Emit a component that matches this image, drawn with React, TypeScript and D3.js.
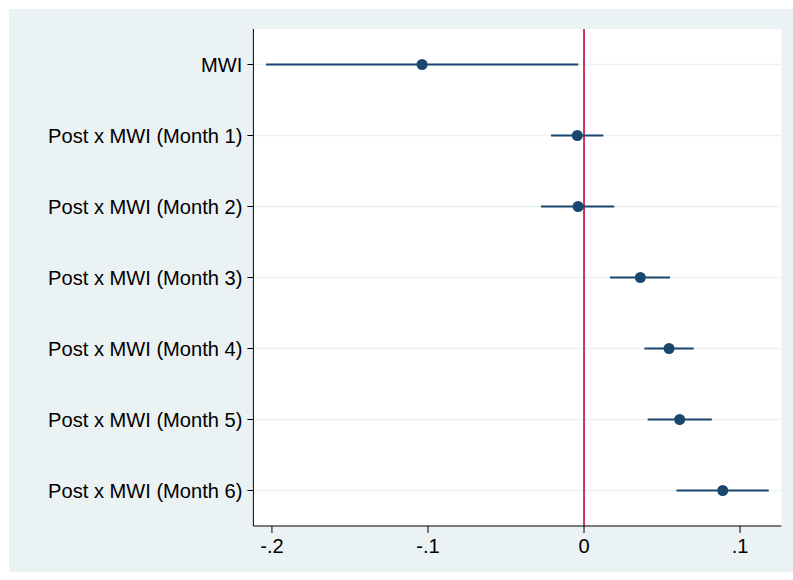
import React from "react";
import * as d3 from "d3";

const labels = [
  "MWI",
  "Post x MWI (Month 1)",
  "Post x MWI (Month 2)",
  "Post x MWI (Month 3)",
  "Post x MWI (Month 4)",
  "Post x MWI (Month 5)",
  "Post x MWI (Month 6)",
];
const estimates = [-0.1038, -0.0043, -0.0038, 0.0361, 0.0545, 0.0613, 0.0889];
const lower = [-0.2038, -0.0212, -0.0276, 0.0167, 0.0387, 0.0408, 0.0592];
const upper = [-0.0037, 0.0124, 0.0194, 0.0551, 0.0703, 0.0819, 0.1184];
const xTicks = [-0.2, -0.1, 0, 0.1];
const xTickLabels = ["-.2", "-.1", "0", ".1"];

const W = 793;
const H = 580;
const plot = { left: 253.4, right: 781.4, top: 29, bottom: 526 };

export default function App() {
  const x = d3.scaleLinear().domain([-0.2119, 0.1265]).range([plot.left, plot.right]);
  const y = d3.scalePoint<string>().domain(labels).range([plot.top, plot.bottom]).padding(0.5);
  const navy = "#1a476f";
  const font = "'Liberation Sans', Arial, sans-serif";

  return (
    <svg width={W} height={H} style={{ position: "absolute", left: 0, top: 0 }}>
      <rect x={0} y={0} width={W} height={H} fill="#ffffff" />
      <rect x={9} y={9} width={W - 9} height={563} fill="#eaf2f3" />
      <rect x={plot.left} y={plot.top} width={plot.right - plot.left} height={plot.bottom - plot.top} fill="#ffffff" />
      {labels.map((l) => (
        <line key={"g" + l} x1={plot.left} x2={plot.right} y1={y(l)} y2={y(l)} stroke="#eaf2f3" strokeWidth={1.5} />
      ))}
      <line x1={x(0)} x2={x(0)} y1={plot.top} y2={plot.bottom} stroke="#c10534" strokeWidth={1.6} />
      {labels.map((l, i) => (
        <g key={"m" + l}>
          <line x1={x(lower[i])} x2={x(upper[i])} y1={y(l)} y2={y(l)} stroke={navy} strokeWidth={2} />
          <circle cx={x(estimates[i])} cy={y(l)} r={5.5} fill={navy} />
        </g>
      ))}
      <line x1={plot.left} x2={plot.left} y1={plot.top} y2={plot.bottom} stroke="#000" strokeWidth={1} />
      <line x1={plot.left} x2={plot.right} y1={plot.bottom} y2={plot.bottom} stroke="#000" strokeWidth={1} />
      {labels.map((l) => (
        <g key={"t" + l}>
          <line x1={plot.left - 6} x2={plot.left} y1={y(l)} y2={y(l)} stroke="#000" strokeWidth={1} />
          <text x={plot.left - 11} y={y(l)} dy="0.36em" textAnchor="end" fontFamily={font} fontSize={20.1} fill="#000">
            {l}
          </text>
        </g>
      ))}
      {xTicks.map((t, i) => (
        <g key={"x" + t}>
          <line x1={x(t)} x2={x(t)} y1={plot.bottom} y2={plot.bottom + 7} stroke="#000" strokeWidth={1} />
          <text x={x(t)} y={553} textAnchor="middle" fontFamily={font} fontSize={20.1} fill="#000">
            {xTickLabels[i]}
          </text>
        </g>
      ))}
    </svg>
  );
}
